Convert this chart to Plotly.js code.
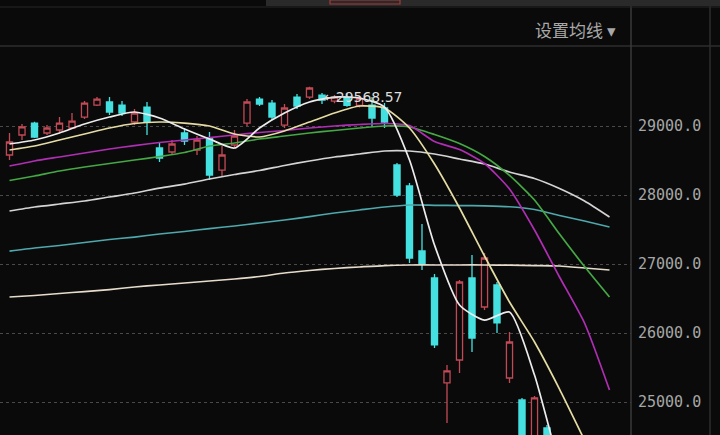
<!DOCTYPE html>
<html>
<head>
<meta charset="utf-8">
<script src="https://cdn.plot.ly/plotly-3.0.1.min.js"></script>
<style>
html,body{margin:0;padding:0;background:#0a0a0a;}
#chart{width:720px;height:435px;}
</style>
</head>
<body>
<div id="chart"></div>
<script>
// ---- candle data (one per trading day, index 0..48) ----
const openP  = [28580,28870,29043,28899,28942,28971,29130,29304,29348,29304,29058,29275,28681,28623,28899,28652,28826,28362,28725,29043,29391,29333,29014,29420,29420,29449,29360,29420,29300,29304,29261,28435,28131,27189,26797,25276,25609,26797,26377,26696,25348,25030,24400,24624,24350,24000,24100,23800,23500];
const highP  = [28899,29029,29060,29014,29130,29188,29362,29420,29420,29362,29246,29348,28754,28797,28971,28855,28913,28710,28942,29391,29420,29377,29319,29464,29568.57,29480,29450,29470,29440,29420,29333,28464,28174,27580,26855,25537,26768,27131,27160,26739,26015,25059,25088,24667,24420,24300,24350,24000,23900];
const lowP   = [28507,28797,28826,28870,28913,28957,29101,29290,29159,29145,29014,28870,28478,28580,28725,28580,28218,28275,28681,29000,29290,29087,28971,29246,29391,29319,29330,29280,29270,28986,28971,27971,27015,26913,25783,24697,25421,25725,26334,26000,25276,24300,24300,24200,23900,23700,23600,23400,23300];
const closeP = [28768,28986,28841,28971,29043,29072,29333,29391,29203,29188,29188,29058,28536,28739,28783,28797,28290,28580,28855,29348,29319,29130,29261,29290,29551,29377,29420,29300,29400,29116,29058,28000,27087,27000,25827,25450,26739,25928,27087,26146,25870,24450,25059,24300,24000,24150,23800,23500,23700];

// ---- moving averages, read at every second day ----
const maDays = [0,2,4,6,8,10,12,14,16,18,20,22,24,26,28,30,32,34,36,38,40,42,44,46,48];
const ma5   = [28739,28797,28899,29029,29130,29203,29116,28957,28812,28681,28971,29188,29348,29420,29406,29275,28507,27275,26406,26188,26304,25391,24100,23290,null];
const ma10  = [28652,28710,28797,28884,28971,29036,29058,29043,29000,28884,28841,28928,29058,29188,29290,29261,28971,28449,27812,27116,26449,25870,25188,24449,23725];
const ma20  = [28420,28493,28551,28609,28667,28717,28761,28797,28833,28870,28906,28935,28971,29000,29022,29036,29007,28775,28659,28457,28087,27493,26812,26145,25174];
const ma30  = [28210,28275,28348,28406,28457,28507,28558,28616,28710,28754,28812,28855,28899,28935,28971,29000,28986,28877,28746,28558,28283,27928,27435,26964,26522];
const ma60  = [27768,27826,27870,27913,27971,28029,28101,28159,28232,28297,28355,28428,28493,28551,28594,28638,28638,28594,28522,28449,28333,28239,28094,27913,27681];
const ma120 = [27188,27232,27268,27312,27355,27391,27435,27471,27514,27551,27594,27638,27688,27739,27783,27826,27855,27851,27846,27843,27830,27790,27703,27623,27536];
const ma250 = [26522,26544,26573,26601,26630,26667,26696,26725,26754,26783,26819,26870,26906,26935,26957,26978,26986,26986,26986,26986,26983,26978,26971,26942,26913];

const yTicks = [25000,26000,27000,28000,29000];
const highLabel = '←29568.57';
const menuLabel = '设置均线 ▾';

const days = openP.map((_, i) => i);

function maTrace(vals, color) {
  return {type:'scatter', mode:'lines', x: maDays, y: vals,
          line:{color: color, width:1.7, shape:'spline', smoothing:0.6},
          hoverinfo:'skip', showlegend:false, connectgaps:false};
}

const traces = [
  maTrace(ma250, '#e6dccb'),
  maTrace(ma120, '#4fa8ac'),
  maTrace(ma60,  '#d4d4d4'),
  maTrace(ma30,  '#45a845'),
  maTrace(ma20,  '#b02eb4'),
  maTrace(ma10,  '#e4dca4'),
  maTrace(ma5,   '#ececec'),
  {
    type:'candlestick', x: days, open: openP, high: highP, low: lowP, close: closeP,
    increasing:{line:{color:'#c24a56', width:1.3}, fillcolor:'#0a0a0a'},
    decreasing:{line:{color:'#45e0e0', width:1.3}, fillcolor:'#45e0e0'},
    showlegend:false, hoverinfo:'skip'
  }
];

const H = 435, T = 47, W = 631;
const py = v => (H - v) / (H - T);   // pixel y -> paper y
const px = v => v / W;               // pixel x -> paper x

const layout = {
  width:720, height:435,
  margin:{l:0, r:89, t:T, b:0, pad:0},
  paper_bgcolor:'#0a0a0a', plot_bgcolor:'#0a0a0a',
  showlegend:false,
  xaxis:{range:[-0.76, 49.72], showgrid:false, zeroline:false, showticklabels:false,
         rangeslider:{visible:false}, fixedrange:true},
  yaxis:{range:[24522, 30145], side:'right', tickvals: yTicks, tickformat:'.1f',
         showgrid:true, gridcolor:'#4a4a4a', griddash:'dot', gridwidth:1,
         zeroline:false, ticks:'', ticklabelstandoff:6,
         tickfont:{family:'DejaVu Sans Mono, Liberation Mono, monospace', size:15, color:'#a6a6a6'}},
  shapes:[
    {type:'line', xref:'paper', yref:'paper', x0:0, x1:px(720), y0:py(46), y1:py(46), line:{color:'#2e2e2e', width:1.5}},
    {type:'line', xref:'paper', yref:'paper', x0:1, x1:1, y0:py(6), y1:py(435), line:{color:'#3a3a3a', width:1.5}},
    {type:'line', xref:'paper', yref:'paper', x0:px(710), x1:px(710), y0:py(6), y1:py(435), line:{color:'#2e2e2e', width:1.5}},
    {type:'line', xref:'paper', yref:'paper', x0:0, x1:px(720), y0:py(7), y1:py(7), line:{color:'#262626', width:1}},
    {type:'rect', xref:'paper', yref:'paper', x0:px(266), x1:px(720), y0:py(6), y1:py(0), fillcolor:'#2a2a2a', line:{width:0}},
    {type:'rect', xref:'paper', yref:'paper', x0:px(330), x1:px(400), y0:py(4), y1:py(0), fillcolor:'rgba(0,0,0,0)', line:{color:'#a83a3a', width:1.2}}
  ],
  annotations:[
    {xref:'x', yref:'y', x:25.0, y:29420, text: highLabel, showarrow:false, xanchor:'left', yanchor:'middle',
     font:{family:'DejaVu Sans, sans-serif', size:14, color:'#dcdcdc'}},
    {xref:'paper', yref:'paper', x:px(618), y:py(30), text: menuLabel, showarrow:false, xanchor:'right', yanchor:'middle',
     font:{family:'Noto Sans CJK SC, sans-serif', size:17, color:'#a8a8a8'}}
  ]
};

Plotly.newPlot('chart', traces, layout, {displayModeBar:false, staticPlot:true});
</script>
</body>
</html>
